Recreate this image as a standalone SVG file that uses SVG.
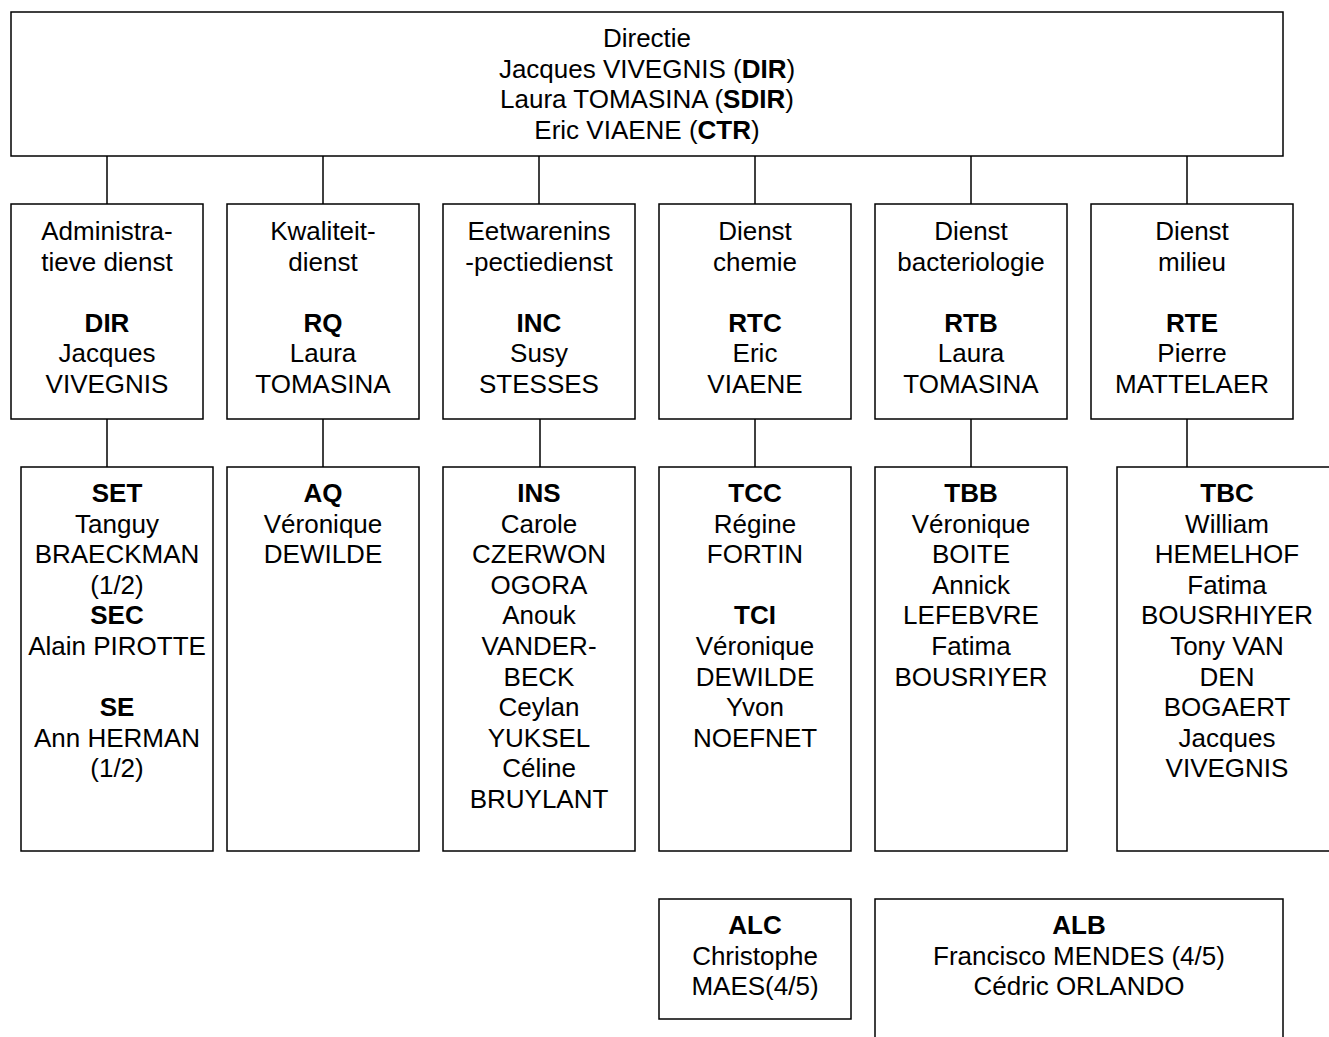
<svg xmlns="http://www.w3.org/2000/svg" width="1329" height="1037" viewBox="0 0 1329 1037">
<style>
rect{fill:#fff;stroke:#000;stroke-width:1.5}
line{stroke:#000;stroke-width:1.5}
text{font-family:"Liberation Sans",Arial,sans-serif;font-size:26px;fill:#000;text-anchor:middle}
.b{font-weight:bold}
</style>
<rect x="0" y="0" width="1329" height="1037" style="stroke:none"/>
<g id="connectors">
<line x1="107" y1="156" x2="107" y2="204"/>
<line x1="323" y1="156" x2="323" y2="204"/>
<line x1="539" y1="156" x2="539" y2="204"/>
<line x1="755" y1="156" x2="755" y2="204"/>
<line x1="971" y1="156" x2="971" y2="204"/>
<line x1="1187" y1="156" x2="1187" y2="204"/>
<line x1="107" y1="419" x2="107" y2="467"/>
<line x1="323" y1="419" x2="323" y2="467"/>
<line x1="540" y1="419" x2="540" y2="467"/>
<line x1="755" y1="419" x2="755" y2="467"/>
<line x1="971" y1="419" x2="971" y2="467"/>
<line x1="1187" y1="419" x2="1187" y2="467"/>
</g>
<g id="directie">
<rect x="11" y="12" width="1272" height="144"/>
<text x="647" y="47">Directie</text>
<text x="647" y="77.6">Jacques VIVEGNIS (<tspan class="b">DIR</tspan>)</text>
<text x="647" y="108.2">Laura TOMASINA (<tspan class="b">SDIR</tspan>)</text>
<text x="647" y="138.8">Eric VIAENE (<tspan class="b">CTR</tspan>)</text>
</g>
<g id="admin">
<rect x="11" y="204" width="192" height="215"/>
<text x="107" y="240">Administra-</text>
<text x="107" y="270.6">tieve dienst</text>
<text x="107" y="331.8" class="b">DIR</text>
<text x="107" y="362.4">Jacques</text>
<text x="107" y="393">VIVEGNIS</text>
</g>
<g id="kwaliteit">
<rect x="227" y="204" width="192" height="215"/>
<text x="323" y="240">Kwaliteit-</text>
<text x="323" y="270.6">dienst</text>
<text x="323" y="331.8" class="b">RQ</text>
<text x="323" y="362.4">Laura</text>
<text x="323" y="393">TOMASINA</text>
</g>
<g id="eetwaren">
<rect x="443" y="204" width="192" height="215"/>
<text x="539" y="240">Eetwarenins</text>
<text x="539" y="270.6">-pectiedienst</text>
<text x="539" y="331.8" class="b">INC</text>
<text x="539" y="362.4">Susy</text>
<text x="539" y="393">STESSES</text>
</g>
<g id="chemie">
<rect x="659" y="204" width="192" height="215"/>
<text x="755" y="240">Dienst</text>
<text x="755" y="270.6">chemie</text>
<text x="755" y="331.8" class="b">RTC</text>
<text x="755" y="362.4">Eric</text>
<text x="755" y="393">VIAENE</text>
</g>
<g id="bacteriologie">
<rect x="875" y="204" width="192" height="215"/>
<text x="971" y="240">Dienst</text>
<text x="971" y="270.6">bacteriologie</text>
<text x="971" y="331.8" class="b">RTB</text>
<text x="971" y="362.4">Laura</text>
<text x="971" y="393">TOMASINA</text>
</g>
<g id="milieu">
<rect x="1091" y="204" width="202" height="215"/>
<text x="1192" y="240">Dienst</text>
<text x="1192" y="270.6">milieu</text>
<text x="1192" y="331.8" class="b">RTE</text>
<text x="1192" y="362.4">Pierre</text>
<text x="1192" y="393">MATTELAER</text>
</g>
<g id="set">
<rect x="21" y="467" width="192" height="384"/>
<text x="117" y="502" class="b">SET</text>
<text x="117" y="532.6">Tanguy</text>
<text x="117" y="563.2">BRAECKMAN</text>
<text x="117" y="593.8">(1/2)</text>
<text x="117" y="624.4" class="b">SEC</text>
<text x="117" y="655">Alain PIROTTE</text>
<text x="117" y="716.2" class="b">SE</text>
<text x="117" y="746.8">Ann HERMAN</text>
<text x="117" y="777.4">(1/2)</text>
</g>
<g id="aq">
<rect x="227" y="467" width="192" height="384"/>
<text x="323" y="502" class="b">AQ</text>
<text x="323" y="532.6">Véronique</text>
<text x="323" y="563.2">DEWILDE</text>
</g>
<g id="ins">
<rect x="443" y="467" width="192" height="384"/>
<text x="539" y="502" class="b">INS</text>
<text x="539" y="532.6">Carole</text>
<text x="539" y="563.2">CZERWON</text>
<text x="539" y="593.8">OGORA</text>
<text x="539" y="624.4">Anouk</text>
<text x="539" y="655">VANDER-</text>
<text x="539" y="685.6">BECK</text>
<text x="539" y="716.2">Ceylan</text>
<text x="539" y="746.8">YUKSEL</text>
<text x="539" y="777.4">Céline</text>
<text x="539" y="808">BRUYLANT</text>
</g>
<g id="tcc">
<rect x="659" y="467" width="192" height="384"/>
<text x="755" y="502" class="b">TCC</text>
<text x="755" y="532.6">Régine</text>
<text x="755" y="563.2">FORTIN</text>
<text x="755" y="624.4" class="b">TCI</text>
<text x="755" y="655">Véronique</text>
<text x="755" y="685.6">DEWILDE</text>
<text x="755" y="716.2">Yvon</text>
<text x="755" y="746.8">NOEFNET</text>
</g>
<g id="tbb">
<rect x="875" y="467" width="192" height="384"/>
<text x="971" y="502" class="b">TBB</text>
<text x="971" y="532.6">Véronique</text>
<text x="971" y="563.2">BOITE</text>
<text x="971" y="593.8">Annick</text>
<text x="971" y="624.4">LEFEBVRE</text>
<text x="971" y="655">Fatima</text>
<text x="971" y="685.6">BOUSRIYER</text>
</g>
<g id="tbc">
<rect x="1117" y="467" width="220" height="384"/>
<text x="1227" y="502" class="b">TBC</text>
<text x="1227" y="532.6">William</text>
<text x="1227" y="563.2">HEMELHOF</text>
<text x="1227" y="593.8">Fatima</text>
<text x="1227" y="624.4">BOUSRHIYER</text>
<text x="1227" y="655">Tony VAN</text>
<text x="1227" y="685.6">DEN</text>
<text x="1227" y="716.2">BOGAERT</text>
<text x="1227" y="746.8">Jacques</text>
<text x="1227" y="777.4">VIVEGNIS</text>
</g>
<g id="alc">
<rect x="659" y="899" width="192" height="120"/>
<text x="755" y="934" class="b">ALC</text>
<text x="755" y="964.6">Christophe</text>
<text x="755" y="995.2">MAES(4/5)</text>
</g>
<g id="alb">
<rect x="875" y="899" width="408" height="150"/>
<text x="1079" y="934" class="b">ALB</text>
<text x="1079" y="964.6">Francisco MENDES (4/5)</text>
<text x="1079" y="995.2">Cédric ORLANDO</text>
</g>
</svg>
